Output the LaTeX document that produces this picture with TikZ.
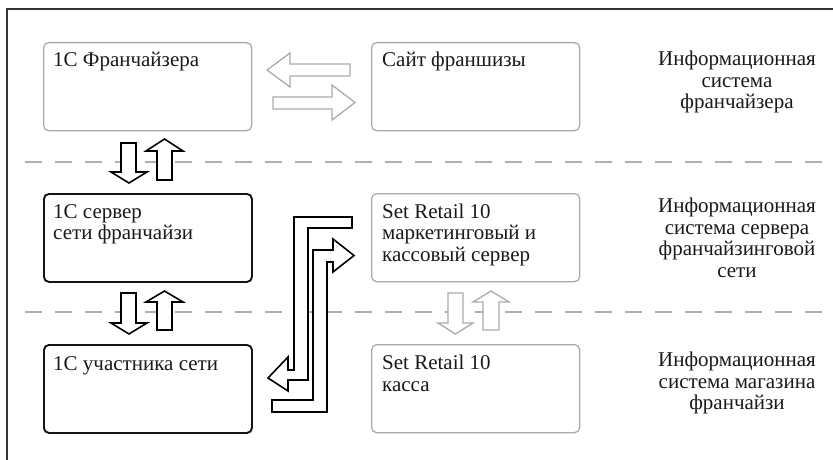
\documentclass[tikz,border=0pt]{standalone}
\usepackage{fontspec}
\setmainfont{Liberation Serif}
\definecolor{boxgray}{HTML}{ABABAB}
\definecolor{dashgray}{HTML}{AFAFAF}
\definecolor{framegray}{HTML}{333333}
\begin{document}
\begin{tikzpicture}[x=1pt,y=-1pt,
  gbox/.style={draw=boxgray, line width=1.3pt, rounded corners=5pt, minimum width=208pt, minimum height=88pt, anchor=north west, inner sep=0pt},
  bbox/.style={draw=black!92, line width=1.9pt, rounded corners=5pt, minimum width=208pt, minimum height=88pt, anchor=north west, inner sep=0pt},
  txt/.style={anchor=north west, inner sep=0pt, align=left, text=black!90, font=\fontsize{21}{21.5}\selectfont},
  side/.style={anchor=north, inner sep=0pt, align=center, text=black!90, font=\fontsize{21}{21.5}\selectfont},
  garrow/.style={draw=boxgray, line width=1.3pt, fill=white, line join=miter},
  barrow/.style={draw=black, line width=1.6pt, fill=white, line join=miter},
  sepline/.style={draw=dashgray, line width=1.4pt, dash pattern=on 17pt off 13pt}]
\useasboundingbox (0,0) rectangle (833,460);
% frame
\coordinate (fa) at (7,460);
\coordinate (fb) at (7,9);
\coordinate (fc) at (833,9);
\draw[framegray, line width=1.2pt] (fa) -- (fb) -- (fc);
% separators
\coordinate (s1a) at (25,162);
\coordinate (s1b) at (833,162);
\coordinate (s2a) at (25,312);
\coordinate (s2b) at (833,312);
\draw[sepline] (s1a) -- (s1b);
\draw[sepline] (s2a) -- (s2b);
% boxes
\node[gbox] (fr) at (43,42) {};
\node[gbox] (site) at (371,42) {};
\node[bbox] (srv) at (43,193) {};
\node[gbox] (sr) at (371,193) {};
\node[bbox] (uch) at (43,344) {};
\node[gbox] (kassa) at (371,344) {};
% box texts
\node[txt] (tfr) at (53,52) {1С Франчайзера};
\node[txt] (tsite) at (382,52) {Сайт франшизы};
\node[txt] (tsrv) at (53,204) {1С сервер\\сети франчайзи};
\node[txt] (tsr) at (382,203.5) {Set Retail 10\\маркетинговый и\\кассовый сервер};
\node[txt] (tuch) at (53,356) {1С участника сети};
\node[txt] (tkassa) at (382,355) {Set Retail 10\\касса};
% side labels
\node[side] (l1) at (737,51) {Информационная\\система\\франчайзера};
\node[side] (l2) at (737,198) {Информационная\\система сервера\\франчайзинговой\\сети};
\node[side] (l3) at (737,352) {Информационная\\система магазина\\франчайзи};
% top horizontal gray arrows
\draw[garrow] (350,64) -- (290,64) -- (290,53) -- (267,70) -- (290,87) -- (290,76) -- (350,76) -- cycle;
\draw[garrow] (273,97) -- (332,97) -- (332,85) -- (355,102.5) -- (332,120) -- (332,109) -- (273,109) -- cycle;
% vertical black arrows, pair A
\draw[barrow] (121,143) -- (136,143) -- (136,172) -- (147,172) -- (129,183) -- (111,172) -- (121,172) -- cycle;
\draw[barrow] (157,180) -- (172,180) -- (172,151) -- (183,151) -- (164.5,139) -- (146,151) -- (157,151) -- cycle;
% vertical black arrows, pair B
\draw[barrow] (121,293) -- (136,293) -- (136,323) -- (147,323) -- (129,334) -- (111,323) -- (121,323) -- cycle;
\draw[barrow] (157,330) -- (172,330) -- (172,302) -- (183,302) -- (164.5,291) -- (146,302) -- (157,302) -- cycle;
% vertical gray arrows, pair C
\draw[garrow] (448,293) -- (463,293) -- (463,323) -- (473,323) -- (455.5,334) -- (438,323) -- (448,323) -- cycle;
\draw[garrow] (483,330) -- (499,330) -- (499,302) -- (509,302) -- (491,291) -- (473,302) -- (483,302) -- cycle;
% long L-shaped connectors
\draw[barrow] (352,217) -- (294,217) -- (294,370) -- (288,370) -- (288,357) -- (268,378) -- (288,391) -- (288,380) -- (308,380) -- (308,228) -- (352,228) -- cycle;
\draw[barrow] (272,400) -- (313,400) -- (313,250) -- (333,250) -- (333,239) -- (354,255.5) -- (333,272) -- (333,262) -- (327,262) -- (327,412) -- (272,412) -- cycle;
\end{tikzpicture}
\end{document}
